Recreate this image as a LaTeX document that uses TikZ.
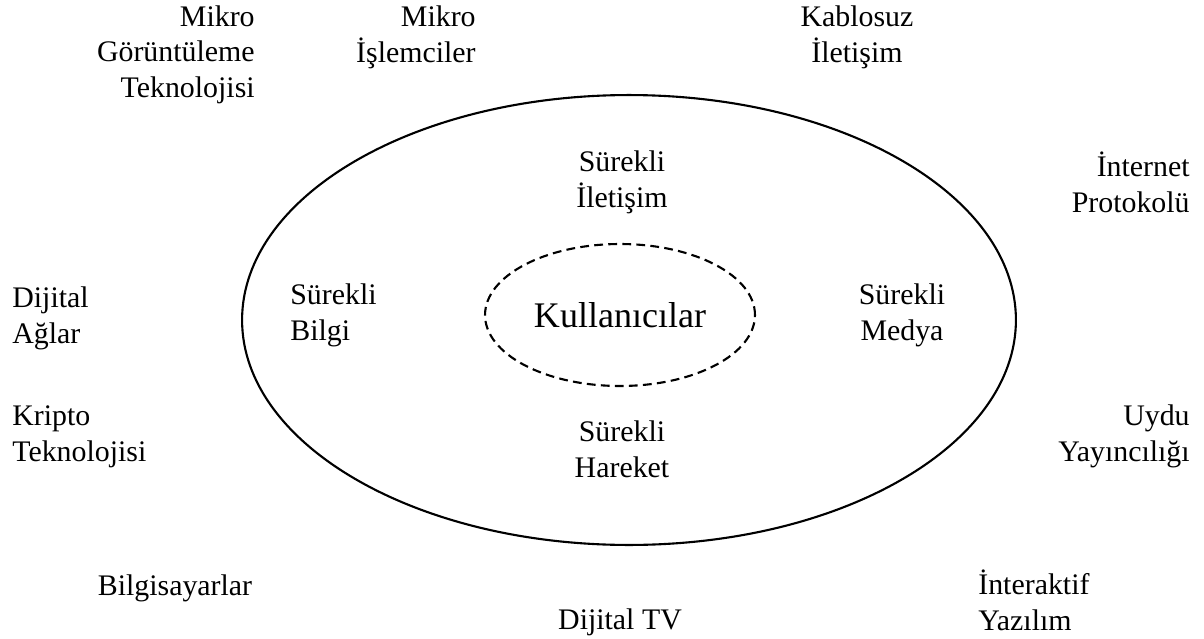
\documentclass[tikz,border=0pt]{standalone}
\usepackage{fontspec}
\setmainfont{Liberation Serif}
\usetikzlibrary{shapes.geometric, positioning}

\begin{document}
\begin{tikzpicture}[x=0.02cm, y=-0.02cm,
        lbl/.style={font=\fontsize{17}{20}\selectfont, inner sep=0pt},
        ring/.style={draw, ellipse, inner sep=0pt, line width=1.2pt}]
    \useasboundingbox (0,0) rectangle (1204,639);

    % Rings
    \node[ring, minimum width=15.48cm, minimum height=9cm] (outer) at (629,320) {};
    \node[ring, dash pattern=on 5pt off 3pt, minimum width=5.4cm, minimum height=2.84cm,
          font=\fontsize{20.5}{24}\selectfont] (users) at (620,315) {Kullanıcılar};

    % Inside the big ring (base = last line)
    \node[lbl, align=center, anchor=base] (sil) at (622,207) {Sürekli\\İletişim};
    \node[lbl, align=left, anchor=base west] (sbi) at (290,340) {Sürekli\\Bilgi};
    \node[lbl, align=center, anchor=base] (sme) at (902,340) {Sürekli\\Medya};
    \node[lbl, align=center, anchor=base] (sha) at (622,477) {Sürekli\\Hareket};

    % Technologies around
    \node[lbl, align=right, anchor=base east] (mgt) at (255,97) {Mikro\\Görüntüleme\\Teknolojisi};
    \node[lbl, align=right, anchor=base east] (mis) at (476,62) {Mikro\\İşlemciler};
    \node[lbl, align=center, anchor=base] (kab) at (857,62) {Kablosuz\\İletişim};
    \node[lbl, align=right, anchor=base east] (ipr) at (1190,212) {İnternet\\Protokolü};
    \node[lbl, align=left, anchor=base west] (dag) at (12,343) {Dijital\\Ağlar};
    \node[lbl, align=left, anchor=base west] (kri) at (12,461) {Kripto\\Teknolojisi};
    \node[lbl, align=right, anchor=base east] (uyd) at (1190,461) {Uydu\\Yayıncılığı};
    \node[lbl, anchor=base] (bil) at (175,595) {Bilgisayarlar};
    \node[lbl, anchor=base] (dtv) at (620,629) {Dijital TV};
    \node[lbl, align=left, anchor=base west] (iya) at (978,630) {İnteraktif\\Yazılım};
\end{tikzpicture}
\end{document}
